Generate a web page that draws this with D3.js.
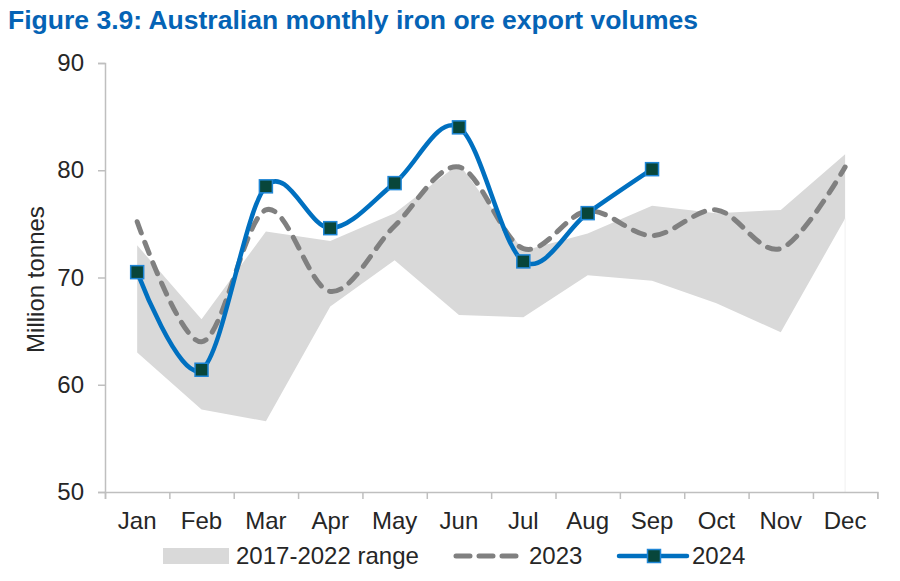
<!DOCTYPE html>
<html>
<head>
<meta charset="utf-8">
<script src="https://cdn.jsdelivr.net/npm/d3@7"></script>
<style>
  body { margin: 0; background: #fff; }
  text { font-family: "Liberation Sans", Arial, sans-serif; fill: #262626; }
</style>
</head>
<body>
<svg id="chart" width="900" height="581"></svg>
<script>
const months = ['Jan', 'Feb', 'Mar', 'Apr', 'May', 'Jun', 'Jul', 'Aug', 'Sep', 'Oct', 'Nov', 'Dec'];
const rangeLow = [63.0, 57.7, 56.6, 67.3, 71.6, 66.5, 66.3, 70.2, 69.7, 67.6, 64.9, 75.5];
const rangeHigh = [73.0, 66.1, 74.3, 73.4, 76.0, 80.6, 72.5, 74.1, 76.7, 76.0, 76.3, 81.5];
const values2023 = [75.2, 64.0, 76.3, 68.7, 74.8, 80.3, 72.7, 76.2, 73.9, 76.3, 72.7, 80.3];
const values2024 = [70.5, 61.4, 78.5, 74.6, 78.8, 84.0, 71.5, 76.0, 80.1];
const yTicks = [50, 60, 70, 80, 90];

const svg = d3.select('#chart');
const plotLeft = 105, plotRight = 877.3, plotTop = 63, plotBottom = 492;
const fontSize = '24px';

const x = d3.scaleBand().domain(months).range([plotLeft, plotRight]);
const xc = (m) => x(m) + x.bandwidth() / 2;
const y = d3.scaleLinear().domain([50, 90]).range([plotBottom, plotTop]);
const axisColor = '#bfbfbf';

// title
svg.append('text')
  .attr('x', 8).attr('y', 29)
  .attr('textLength', 690).attr('lengthAdjust', 'spacingAndGlyphs')
  .style('font-size', '25px').style('font-weight', 'bold').style('fill', '#0563b5')
  .text('Figure 3.9: Australian monthly iron ore export volumes');

// range band
const bandData = months.map((m, i) => ({ m, lo: rangeLow[i], hi: rangeHigh[i] }));
svg.append('path')
  .datum(bandData)
  .attr('fill', '#d9d9d9')
  .attr('d', d3.area().x(d => xc(d.m)).y0(d => y(d.lo)).y1(d => y(d.hi)));

// faint drop line at the end of the range
svg.append('line')
  .attr('x1', xc('Dec')).attr('x2', xc('Dec'))
  .attr('y1', y(rangeLow[11])).attr('y2', plotBottom)
  .attr('stroke', '#f0f0f0').attr('stroke-width', 1);

// axes
const yAxis = svg.append('g')
  .attr('transform', `translate(${plotLeft},0)`)
  .call(d3.axisLeft(y).tickValues(yTicks).tickSize(7).tickPadding(14));
yAxis.select('.domain').attr('stroke', axisColor).attr('stroke-width', 1.5);
yAxis.selectAll('.tick line').attr('stroke', axisColor).attr('stroke-width', 1.5);
yAxis.selectAll('.tick text').style('font-size', fontSize).attr('fill', '#262626')
  .style('font-family', '"Liberation Sans", Arial, sans-serif');

const xEdge = d3.scaleLinear().domain([0, months.length]).range([plotLeft, plotRight]);
const xAxis = svg.append('g')
  .attr('transform', `translate(0,${plotBottom})`)
  .call(d3.axisBottom(xEdge).tickValues(d3.range(months.length + 1)).tickSize(7).tickFormat(''));
xAxis.select('.domain').attr('stroke', axisColor).attr('stroke-width', 1.5);
xAxis.selectAll('.tick line').attr('stroke', axisColor).attr('stroke-width', 1.5);

svg.append('g').selectAll('text')
  .data(months)
  .join('text')
  .attr('x', d => xc(d)).attr('y', 529)
  .attr('text-anchor', 'middle')
  .style('font-size', fontSize)
  .text(d => d);

svg.append('text')
  .attr('transform', `translate(44,${(plotTop + plotBottom) / 2 + 2}) rotate(-90)`)
  .attr('text-anchor', 'middle')
  .style('font-size', fontSize)
  .text('Million tonnes');

// 2023 dashed
const curve = d3.curveCardinal.tension(0);
const dash2023 = '12 10';
svg.append('path')
  .datum(values2023)
  .attr('fill', 'none')
  .attr('stroke', '#808080').attr('stroke-width', 5)
  .attr('stroke-dasharray', dash2023).attr('stroke-linecap', 'round')
  .attr('d', d3.line().x((d, i) => xc(months[i])).y(d => y(d)).curve(curve));

// 2024
svg.append('path')
  .datum(values2024)
  .attr('fill', 'none')
  .attr('stroke', '#0070c0').attr('stroke-width', 4.5)
  .attr('d', d3.line().x((d, i) => xc(months[i])).y(d => y(d)).curve(curve));

const ms = 13;
svg.append('g').selectAll('rect')
  .data(values2024)
  .join('rect')
  .attr('x', (d, i) => xc(months[i]) - ms / 2)
  .attr('y', d => y(d) - ms / 2)
  .attr('width', ms).attr('height', ms)
  .attr('fill', '#08463b').attr('stroke', '#1f86d6').attr('stroke-width', 1.5);

// legend
const ly = 556;
const legend = svg.append('g');
legend.append('rect').attr('x', 163).attr('y', ly - 8).attr('width', 66).attr('height', 16).attr('fill', '#d9d9d9');
legend.append('text').attr('x', 236).attr('y', ly + 8).style('font-size', fontSize).text('2017-2022 range');
legend.append('line').attr('x1', 456).attr('x2', 516).attr('y1', ly).attr('y2', ly)
  .attr('stroke', '#808080').attr('stroke-width', 5)
  .attr('stroke-dasharray', '14 9').attr('stroke-linecap', 'round');
legend.append('text').attr('x', 529).attr('y', ly + 8).style('font-size', fontSize).text('2023');
legend.append('line').attr('x1', 619).attr('x2', 687).attr('y1', ly).attr('y2', ly)
  .attr('stroke', '#0070c0').attr('stroke-width', 4.5).attr('stroke-linecap', 'round');
legend.append('rect').attr('x', 654 - ms / 2).attr('y', ly - ms / 2).attr('width', ms).attr('height', ms)
  .attr('fill', '#08463b').attr('stroke', '#1f86d6').attr('stroke-width', 1.5);
legend.append('text').attr('x', 692).attr('y', ly + 8).style('font-size', fontSize).text('2024');
</script>
</body>
</html>
